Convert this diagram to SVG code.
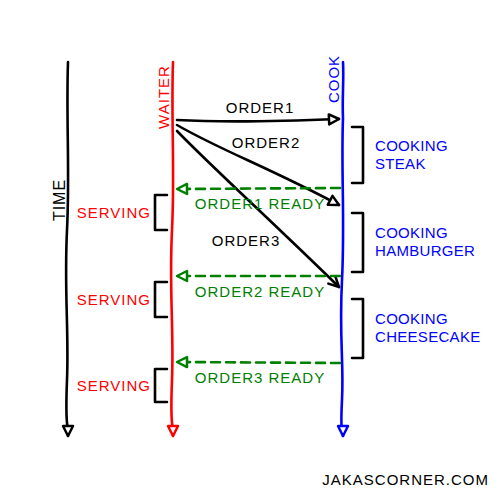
<svg xmlns="http://www.w3.org/2000/svg" width="500" height="500" viewBox="0 0 500 500">
<style>
text{font-family:"Liberation Sans","DejaVu Sans",sans-serif;font-size:15px;letter-spacing:1px}
.ln{fill:none;stroke-width:2.6;stroke-linecap:round;stroke-linejoin:round}
.k{stroke:#000}.r{stroke:#f00}.b{stroke:#00f}.g{stroke:#008000}
.dash{stroke-dasharray:9 6}
.tk{fill:#000}.tr{fill:#f00}.tb{fill:#00f}.tg{fill:#008000}
.tight{letter-spacing:0.3px}
</style>
<defs>
<marker id="ak" viewBox="0 0 14 14" refX="12" refY="7" markerWidth="14" markerHeight="14" markerUnits="userSpaceOnUse" orient="auto"><path d="M2,2 L12,7 L2,12 Z" fill="#fff" stroke="#000" stroke-width="2.5" stroke-linejoin="round"/></marker>
<marker id="ar" viewBox="0 0 14 14" refX="12" refY="7" markerWidth="14" markerHeight="14" markerUnits="userSpaceOnUse" orient="auto"><path d="M2,2 L12,7 L2,12 Z" fill="#fff" stroke="#f00" stroke-width="2.5" stroke-linejoin="round"/></marker>
<marker id="ab" viewBox="0 0 14 14" refX="12" refY="7" markerWidth="14" markerHeight="14" markerUnits="userSpaceOnUse" orient="auto"><path d="M2,2 L12,7 L2,12 Z" fill="#fff" stroke="#00f" stroke-width="2.5" stroke-linejoin="round"/></marker>
<marker id="ag" viewBox="0 0 14 14" refX="12" refY="7" markerWidth="14" markerHeight="14" markerUnits="userSpaceOnUse" orient="auto"><path d="M2,2 L12,7 L2,12 Z" fill="#fff" stroke="#008000" stroke-width="2.5" stroke-linejoin="round"/></marker>
<marker id="av" viewBox="0 0 14 14" refX="12" refY="7" markerWidth="14" markerHeight="14" markerUnits="userSpaceOnUse" orient="auto"><path d="M2,2 L12,7 L2,12" fill="none" stroke="#000" stroke-width="2.5" stroke-linejoin="round" stroke-linecap="round"/></marker>
</defs>
<g id="time">
<path class="ln k" d="M68,62 C66,120 70,170 67,230 S69,330 67,380 S68,420 68,436" marker-end="url(#ak)"/>
<text class="tk" transform="translate(65,200) rotate(-90)" text-anchor="middle" style="font-size:16px">TIME</text>
</g>
<g id="waiter">
<path class="ln r" d="M173,62 C171,120 175,170 172,230 S174,330 172,380 S173,420 173,436" marker-end="url(#ar)"/>
<text class="tr" transform="translate(169,97) rotate(-90)" text-anchor="middle">WAITER</text>
</g>
<g id="cook">
<path class="ln b" d="M343,62 C344,80 342,100 343,118 C341,170 345,220 342,280 S344,360 342,400 S343,425 343,436" marker-end="url(#ab)"/>
<text class="tb" transform="translate(339,79) rotate(-90)" text-anchor="middle">COOK</text>
</g>
<g id="connectors">
<path class="ln k" d="M177,120 C230,123 290,121 339,119" marker-end="url(#ak)"/>
<path class="ln k" d="M177,125 C220,150 270,168 339,205" marker-end="url(#ak)"/>
<path class="ln k" d="M177,131 C215,170 260,210 339,287" marker-end="url(#av)"/>
<path class="ln g dash" d="M340,188 L177,189" marker-end="url(#ag)"/>
<path class="ln g dash" d="M340,276 L177,276" marker-end="url(#ag)"/>
<path class="ln g dash" d="M340,363 L177,362" marker-end="url(#ag)"/>
</g>
<g id="labels">
<text class="tk" x="260" y="113" text-anchor="middle">ORDER1</text>
<text class="tk" x="266" y="148" text-anchor="middle">ORDER2</text>
<text class="tk" x="246" y="246" text-anchor="middle">ORDER3</text>
<text class="tg" x="260" y="209" text-anchor="middle">ORDER1 READY</text>
<text class="tg" x="260" y="297" text-anchor="middle">ORDER2 READY</text>
<text class="tg" x="260" y="383" text-anchor="middle">ORDER3 READY</text>
</g>
<g id="cooking-steak">
<path class="ln k" d="M352,127 L363,127 L363,183 L352,183"/>
<text class="tb tight" x="375" y="151">COOKING</text>
<text class="tb tight" x="375" y="169">STEAK</text>
</g>
<g id="cooking-hamburger">
<path class="ln k" d="M352,213 L363,213 L363,272 L352,272"/>
<text class="tb tight" x="375" y="238">COOKING</text>
<text class="tb tight" x="375" y="256">HAMBURGER</text>
</g>
<g id="cooking-cheesecake">
<path class="ln k" d="M352,299 L363,299 L363,358 L352,358"/>
<text class="tb tight" x="375" y="324">COOKING</text>
<text class="tb tight" x="375" y="342">CHEESECAKE</text>
</g>
<g id="serving1">
<path class="ln k" d="M167,195 L155,195 L155,230 L167,230"/>
<text class="tr" x="151" y="218" text-anchor="end">SERVING</text>
</g>
<g id="serving2">
<path class="ln k" d="M167,282 L155,282 L155,317 L167,317"/>
<text class="tr" x="151" y="305" text-anchor="end">SERVING</text>
</g>
<g id="serving3">
<path class="ln k" d="M167,369 L155,369 L155,402 L167,402"/>
<text class="tr" x="151" y="391" text-anchor="end">SERVING</text>
</g>
<text class="tk" x="489" y="485" text-anchor="end">JAKASCORNER.COM</text>
</svg>
